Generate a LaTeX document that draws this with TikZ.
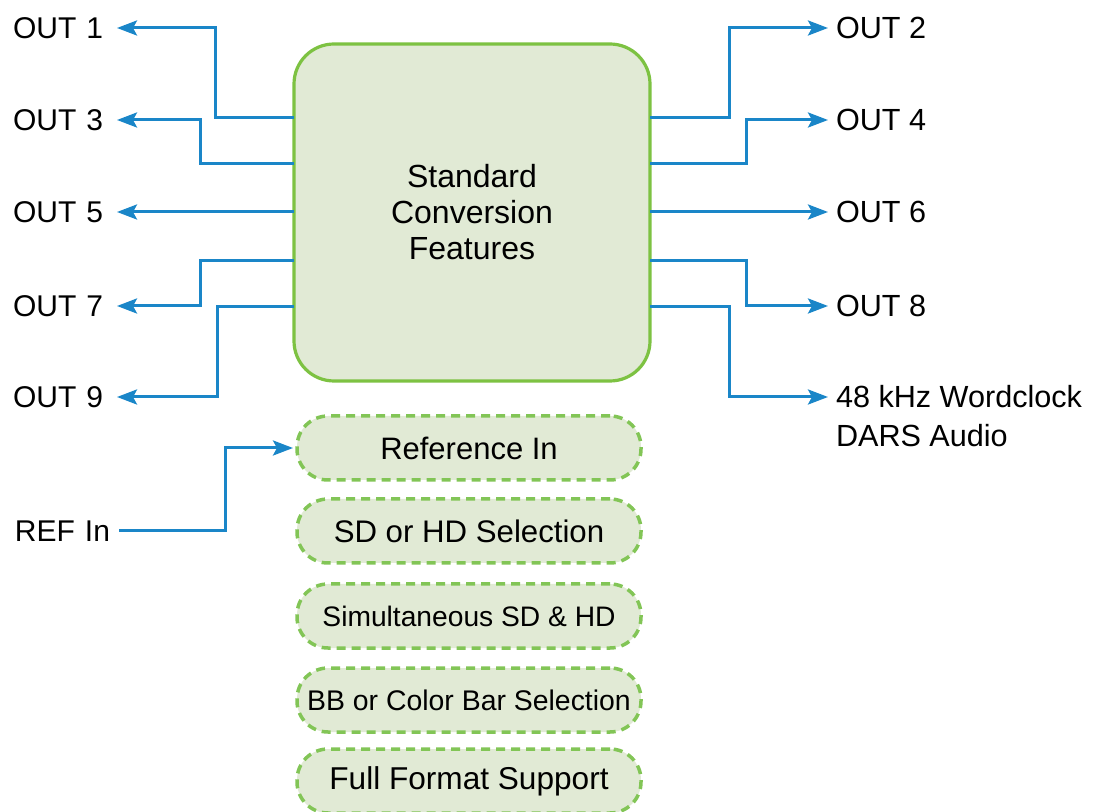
\documentclass[tikz,border=0pt]{standalone}
\usepackage{fontspec}
\setmainfont{Liberation Sans}
\usetikzlibrary{arrows.meta}
\definecolor{cblue}{HTML}{1A86C8}
\definecolor{cgreen}{HTML}{7DC242}
\definecolor{cdash}{HTML}{82C556}
\definecolor{cfill}{HTML}{E1EAD5}
\tikzset{
  x=0.5pt, y=-0.5pt,
  arr/.style={draw=cblue, line width=1.5pt, -{Stealth[length=10pt,width=7.5pt,inset=2pt]}},
  mainbox/.style={draw=cgreen, fill=cfill, line width=1.6pt, rounded corners=20pt,
    minimum width=178pt, minimum height=168.5pt, outer sep=0pt, align=center,
    font=\fontsize{16}{18}\selectfont},
  featbox/.style={draw=cdash, fill=cfill, line width=1.75pt, dash pattern=on 4.5pt off 3pt,
    rounded corners=15.5pt, minimum width=172pt, minimum height=32pt, outer sep=0pt,
    inner sep=0pt},
  llbl/.style={anchor=west, inner sep=0pt, outer sep=0pt, text width=52pt, align=left,
    font=\fontsize{15}{18}\selectfont},
  rlbl/.style={anchor=west, inner ysep=0pt, inner xsep=4pt, outer sep=0pt,
    font=\fontsize{15.3}{18}\selectfont},
}
\begin{document}
\begin{tikzpicture}
\useasboundingbox (0,0) rectangle (1093,812);
\node[mainbox] (main) at (472,212.5) {Standard\\Conversion\\Features};
% left labels
\node[llbl] (o1) at (13,28) {OUT 1};
\node[llbl] (o3) at (13,120) {OUT 3};
\node[llbl] (o5) at (13,212) {OUT 5};
\node[llbl] (o7) at (13,306) {OUT 7};
\node[llbl] (o9) at (13,397) {OUT 9};
\node[llbl] (ref) at (15,531) {REF In};
% right labels
\node[rlbl] (o2) at (828,28) {OUT 2};
\node[rlbl] (o4) at (828,120) {OUT 4};
\node[rlbl] (o6) at (828,212) {OUT 6};
\node[rlbl] (o8) at (828,306) {OUT 8};
\node[rlbl] (wc) at (828,397) {48 kHz Wordclock};
\node[rlbl] (dars) at (828,436) {DARS Audio};
% feature boxes
\node[featbox, font=\fontsize{15.5}{18}\selectfont] (f1) at (469,448) {Reference In};
\node[featbox, font=\fontsize{15.6}{18}\selectfont] (f2) at (469,531) {SD or HD Selection};
\node[featbox, font=\fontsize{14.1}{18}\selectfont] (f3) at (469,616) {Simultaneous SD \& HD};
\node[featbox, font=\fontsize{14.2}{18}\selectfont] (f4) at (469,700) {BB or Color Bar Selection};
\node[featbox, font=\fontsize{15.8}{18}\selectfont] (f5) at (469,781) {Full Format Support};
% left connectors
\draw[arr] (main.west |- 0,118) -- (215,118) |- (o1.east);
\draw[arr] (main.west |- 0,164) -- (200,164) |- (o3.east);
\draw[arr] (main.west |- 0,212) -- (o5.east);
\draw[arr] (main.west |- 0,261) -- (200,261) |- (o7.east);
\draw[arr] (main.west |- 0,307) -- (217,307) |- (o9.east);
% right connectors
\draw[arr] (main.east |- 0,118) -- (729,118) |- (o2.west);
\draw[arr] (main.east |- 0,164) -- (746,164) |- (o4.west);
\draw[arr] (main.east |- 0,212) -- (o6.west);
\draw[arr] (main.east |- 0,261) -- (746,261) |- (o8.west);
\draw[arr] (main.east |- 0,307) -- (729,307) |- (wc.west);
% reference in
\draw[arr, shorten >=2pt] (ref.east) -- (225,531) |- (f1.west);
\end{tikzpicture}
\end{document}
